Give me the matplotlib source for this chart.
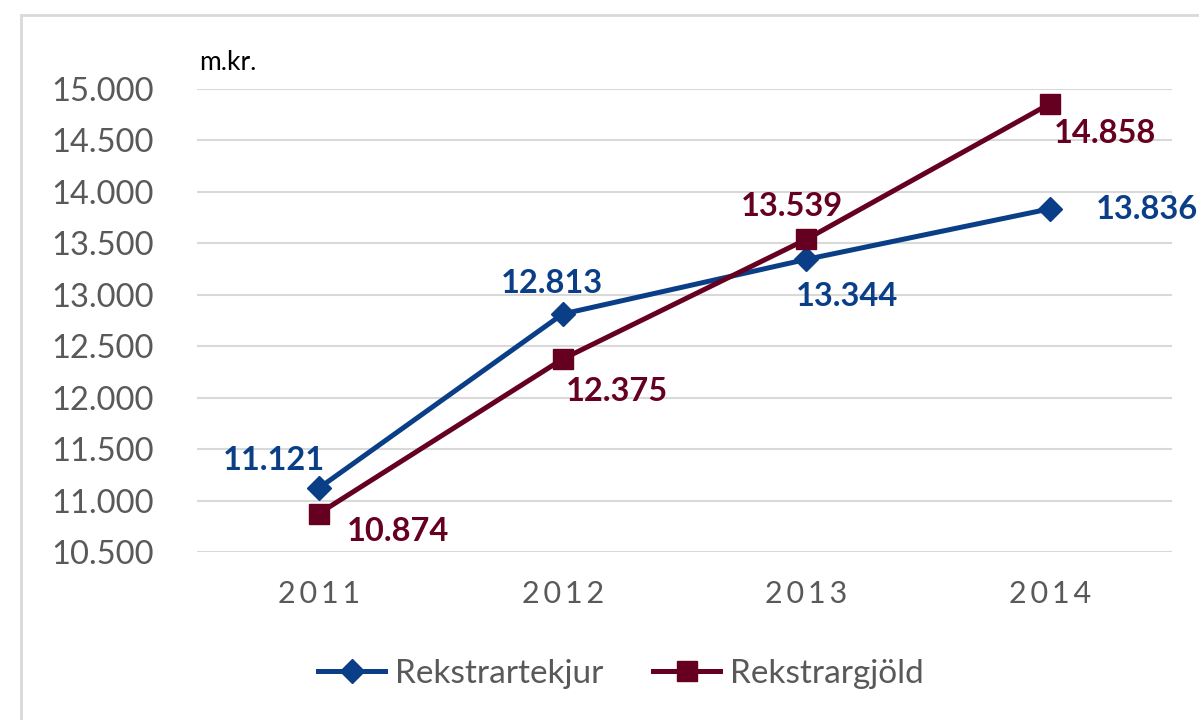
import matplotlib.pyplot as plt
from matplotlib.patches import Rectangle

plt.rcParams['font.family'] = ['Lato', 'DejaVu Sans']

years = ['2011', '2012', '2013', '2014']
tekjur = [11121, 12813, 13344, 13836]
gjold = [10874, 12375, 13539, 14858]

blue = '#0a3f88'
maroon = '#660020'
grey = '#595959'

# label offsets in pixels (dx, dy) relative to each point
tekjur_off = [(-45, 28), (-11, 31), (41, -37), (97, -1)]
gjold_off = [(79, -18), (54, -32), (-14, 33), (55, -30)]


def fmt(v):
    return f"{v:,}".replace(',', '.')


fig = plt.figure(figsize=(11.99, 7.2), dpi=100)
fig.patches.append(Rectangle((21 / 1199, -0.1), 1.2, 1 - 15 / 720 + 0.1,
                             transform=fig.transFigure, fill=False,
                             edgecolor='#d9d9d9', linewidth=2))
ax = fig.add_axes([197 / 1199, 1 - 552 / 720, (1172 - 197) / 1199, (552 - 89) / 720])

x = range(len(years))
ax.plot(x, tekjur, color=blue, lw=3.6, marker='D', ms=12, label='Rekstrartekjur', zorder=3)
ax.plot(x, gjold, color=maroon, lw=3.6, marker='s', ms=15, label='Rekstrargjöld', zorder=3)

for i, v in enumerate(tekjur):
    ax.annotate(fmt(v), (i, v), xytext=tekjur_off[i], textcoords='offset pixels',
                ha='center', va='center', color=blue, fontsize=23.5, fontweight='bold')
for i, v in enumerate(gjold):
    ax.annotate(fmt(v), (i, v), xytext=gjold_off[i], textcoords='offset pixels',
                ha='center', va='center', color=maroon, fontsize=23.5, fontweight='bold')

ax.set_xlim(-0.5, 3.5)
ax.set_ylim(10500, 15000)
yt = list(range(10500, 15001, 500))
ax.set_yticks(yt)
ax.set_yticklabels([fmt(t) for t in yt], color=grey, fontsize=23.5)
ax.set_xticks(list(x))
ax.set_xticklabels(['\u2009'.join(y) for y in years], color=grey, fontsize=22)
ax.tick_params(length=0)
ax.tick_params(axis='y', pad=31)
ax.tick_params(axis='x', pad=20)
ax.grid(axis='y', color='#d9d9d9', lw=1.5)
ax.set_axisbelow(True)
for s in ax.spines.values():
    s.set_visible(False)

fig.text(228 / 1199, 1 - 62 / 720, 'm.kr.', ha='center', va='center', fontsize=19, color='black')

fig.legend(loc='center', bbox_to_anchor=(0.518, 1 - 674 / 720), ncol=2, frameon=False,
           fontsize=24, labelcolor=grey, handlelength=2.0, columnspacing=1.5,
           handletextpad=0.3)

fig.savefig('out.png', dpi=100)
